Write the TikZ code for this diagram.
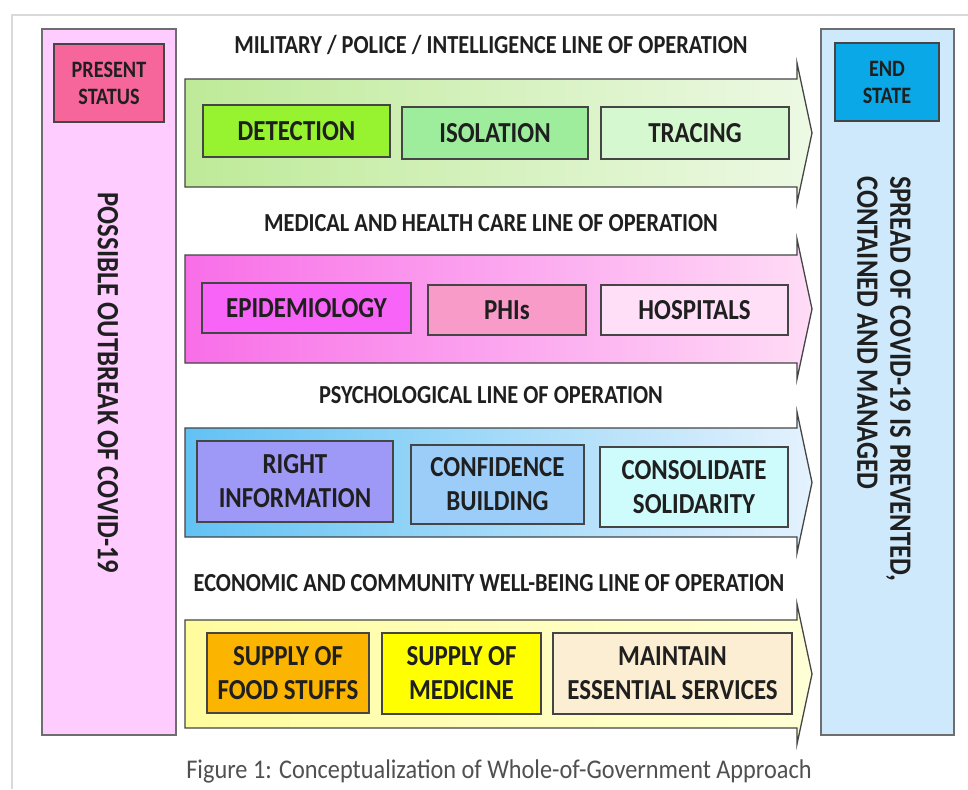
\documentclass[tikz,border=0pt]{standalone}
\usepackage{fontspec}
\setmainfont{Carlito}
\newfontfamily\lblfont{Carlito}[FakeStretch=0.86]
\newfontfamily\capfamily{Carlito}[FakeStretch=0.9]

\definecolor{panelline}{HTML}{6E6E6E}
\definecolor{boxline}{HTML}{454545}
\definecolor{pinkpanel}{HTML}{FFCCFF}
\definecolor{statuspink}{HTML}{F7669A}
\definecolor{bluepanel}{HTML}{CDE9FB}
\definecolor{endblue}{HTML}{0AA8E6}
\definecolor{gA}{HTML}{BEEA98}
\definecolor{gB}{HTML}{EDF9E4}
\definecolor{detect}{HTML}{97F230}
\definecolor{isol}{HTML}{9DED9D}
\definecolor{trace}{HTML}{D6F8D0}
\definecolor{mA}{HTML}{F86EE8}
\definecolor{mB}{HTML}{FFDCF6}
\definecolor{epid}{HTML}{F863F8}
\definecolor{phis}{HTML}{F99BC8}
\definecolor{hosp}{HTML}{FFDEF8}
\definecolor{pA}{HTML}{62C2F4}
\definecolor{pB}{HTML}{E4F2FD}
\definecolor{rinfo}{HTML}{9E98F6}
\definecolor{confb}{HTML}{9CCCF8}
\definecolor{consol}{HTML}{CEFCFC}
\definecolor{eA}{HTML}{FFFC9E}
\definecolor{eB}{HTML}{FFFFD6}
\definecolor{food}{HTML}{FBB400}
\definecolor{medic}{HTML}{FFFF00}
\definecolor{maint}{HTML}{FCEED2}
\definecolor{capgray}{HTML}{505050}

\tikzset{
  panel/.style={draw=panelline, line width=1.3pt, inner sep=0pt},
  tag/.style={draw=boxline, line width=1.3pt, inner sep=0pt, align=center,
    font=\lblfont\bfseries\fontsize{23.5}{27}\selectfont, text=black!88},
  item/.style={draw=boxline, line width=1.3pt, inner sep=0pt, align=center,
    font=\lblfont\bfseries\fontsize{29}{34}\selectfont, text=black!88},
  ttl/.style={font=\lblfont\bfseries\fontsize{26}{30}\selectfont, text=black!88},
  side/.style={font=\lblfont\bfseries\fontsize{31}{33}\selectfont, text=black!88,
    rotate=-90, align=left},
  band/.style={draw=boxline, line width=1.3pt, line join=miter},
}

% one line of operation: a wide arrow from the status panel to the end state
\newcommand\opband[4]{%
  \draw[band, left color=#3, right color=#4]
    (185,#1) -- (797,#1) -- (797,#1-16) -- (812,{(#1+#2)/2})
    -- (797,#2+16) -- (797,#2) -- (185,#2) -- cycle;}

\begin{document}
\begin{tikzpicture}[x=1pt,y=-1pt]
\useasboundingbox (0,0) rectangle (968,789);
\fill[white] (0,0) rectangle (968,789);
\draw[gray!30, line width=1.5pt] (12,789) -- (12,15) -- (968,15);

% side panels
\node[panel, fill=pinkpanel, minimum width=134pt, minimum height=706pt] (start) at (109,382) {};
\node[panel, fill=bluepanel, minimum width=133pt, minimum height=706pt] (goal) at (887.5,382) {};
\node[tag, fill=statuspink, minimum width=110pt, minimum height=78pt] (present) at (109,83) {PRESENT\\STATUS};
\node[tag, fill=endblue, minimum width=104pt, minimum height=78pt] (endstate) at (887,82) {END\\STATE};
\node[side] (outbreak) at (108,383) {POSSIBLE OUTBREAK OF COVID-19};
\node[side] (result) at (884,379) {SPREAD OF COVID-19 IS PREVENTED,\\CONTAINED AND MANAGED};

% military / police / intelligence
\node[ttl] (t1) at (491,45) {MILITARY / POLICE / INTELLIGENCE LINE OF OPERATION};
\opband{79}{187}{gA}{gB}
\node[item, fill=detect, minimum width=187pt, minimum height=52pt] (detection) at (296.5,131) {DETECTION};
\node[item, fill=isol, minimum width=186pt, minimum height=52pt] (isolation) at (495,133) {ISOLATION};
\node[item, fill=trace, minimum width=188pt, minimum height=52pt] (tracing) at (695,133) {TRACING};

% medical and health care
\node[ttl] (t2) at (491,223) {MEDICAL AND HEALTH CARE LINE OF OPERATION};
\opband{255}{363}{mA}{mB}
\node[item, fill=epid, minimum width=209pt, minimum height=50pt] (epidemiology) at (306.5,308) {EPIDEMIOLOGY};
\node[item, fill=phis, minimum width=158pt, minimum height=50pt] (phi) at (507,310) {PHIs};
\node[item, fill=hosp, minimum width=187pt, minimum height=50pt] (hospitals) at (694.5,310) {HOSPITALS};

% psychological
\node[ttl] (t3) at (491,395) {PSYCHOLOGICAL LINE OF OPERATION};
\opband{428}{537}{pA}{pB}
\node[item, fill=rinfo, minimum width=196pt, minimum height=81pt] (information) at (295,481.5) {RIGHT\\INFORMATION};
\node[item, fill=confb, minimum width=173pt, minimum height=79pt] (confidence) at (497.5,484.5) {CONFIDENCE\\BUILDING};
\node[item, fill=consol, minimum width=188pt, minimum height=80pt] (solidarity) at (694,487) {CONSOLIDATE\\SOLIDARITY};

% economic and community well-being
\node[ttl] (t4) at (489,583) {ECONOMIC AND COMMUNITY WELL-BEING LINE OF OPERATION};
\opband{620}{728}{eA}{eB}
\node[item, fill=food, minimum width=162pt, minimum height=80pt] (foodstuffs) at (288,673) {SUPPLY OF\\FOOD STUFFS};
\node[item, fill=medic, minimum width=159pt, minimum height=81pt] (medicine) at (461.5,673.5) {SUPPLY OF\\MEDICINE};
\node[item, fill=maint, minimum width=239pt, minimum height=81pt] (services) at (672.5,673.5) {MAINTAIN\\ESSENTIAL SERVICES};

\node[font=\capfamily\fontsize{27}{32}\selectfont, text=capgray] (caption) at (499,771)
  {Figure 1: Conceptualization of Whole-of-Government Approach};
\end{tikzpicture}
\end{document}
